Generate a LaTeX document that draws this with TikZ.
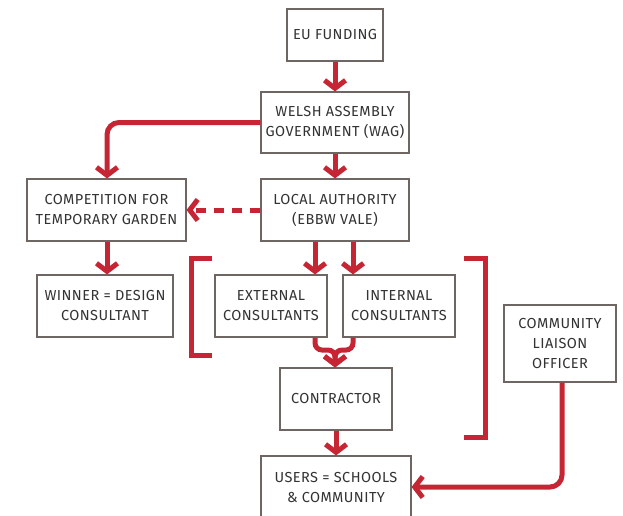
\documentclass[tikz,border=0pt]{standalone}
\usepackage{fontspec}
\setmainfont{Fira Sans}[LetterSpace=3]
\usetikzlibrary{arrows.meta}

\definecolor{flowred}{HTML}{C62633}
\definecolor{boxgray}{HTML}{6E6662}
\definecolor{textgray}{HTML}{333333}

\tikzset{
    box/.style={draw=boxgray, line width=1.1pt, fill=white, text=textgray,
        align=center, inner sep=0pt},
    flow/.style={draw=flowred, line width=5pt, rounded corners=12pt,
        -{Straight Barb[length=8pt,width=21pt]}},
    bracket/.style={draw=flowred, line width=5pt, line join=miter}
}

\begin{document}
\begin{tikzpicture}[x=1pt, y=-1pt, font=\fontsize{14.5}{20}\selectfont]
    \useasboundingbox (0,0) rectangle (623,516);

    % boxes: name/x/y/width/height/text
    \foreach \name/\x/\y/\w/\h/\txt in {
        eu/335/35/96/52/{EU FUNDING},
        wag/335/122.5/148/61/{WELSH ASSEMBLY\\GOVERNMENT (WAG)},
        la/335/210/148/62/{LOCAL AUTHORITY\\(EBBW VALE)},
        comp/106.5/210/159/62/{COMPETITION FOR\\TEMPORARY GARDEN},
        winner/105/306/136/62/{WINNER = DESIGN\\CONSULTANT},
        ext/271/306/112/62/{EXTERNAL\\CONSULTANTS},
        int/399/306/112/62/{INTERNAL\\CONSULTANTS},
        contr/336/399/112/62/{CONTRACTOR},
        users/336/487/150/62/{USERS = SCHOOLS\\\& COMMUNITY},
        clo/560/343.5/112/77/{COMMUNITY\\LIAISON\\OFFICER}}
    {
        \node[box, minimum width=\w pt, minimum height=\h pt] (\name) at (\x,\y) {\txt};
    }

    % brackets round the consultants
    \draw[bracket] (212,258) -- (191,258) -- (191,355) -- (212,355);
    \draw[bracket] (464,258) -- (485,258) -- (485,437) -- (464,437);

    % flows
    \draw[flow] (eu) -- (wag);
    \draw[flow] (wag) -- (la);
    \draw[flow] (wag.west) -| (comp.north -| 107,0);
    \draw[flow, dash pattern=on 10pt off 8pt, line cap=butt] (la.west) -- (comp.east);
    \draw[flow] (comp.south -| 107,0) -- (winner.north -| 107,0);
    \draw[flow] (la.south -| 315,0) -- (ext.north -| 315,0);
    \draw[flow] (la.south -| 353,0) -- (int.north -| 353,0);
    \draw[flow, rounded corners=7pt] (ext.south -| 315,0) -- (315,350) -- (335,350) -- (contr.north -| 335,0);
    \draw[flow, rounded corners=7pt] (int.south -| 353,0) -- (353,350) -- (335,350) -- (contr.north -| 335,0);
    \draw[flow] (contr) -- (users);
    \draw[flow] (clo.south -| 562,0) |- (users.east);
\end{tikzpicture}
\end{document}
